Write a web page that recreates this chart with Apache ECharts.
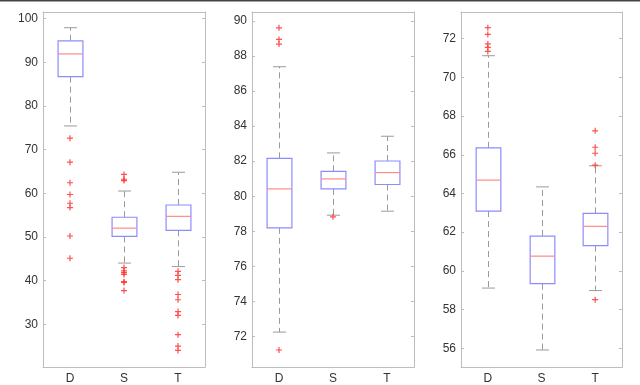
<!DOCTYPE html>
<html>
<head>
<meta charset="utf-8">
<script src="https://cdn.jsdelivr.net/npm/echarts@6/dist/echarts.min.js"></script>
<style>
  html, body { margin: 0; padding: 0; background: #fff; }
  #main { width: 640px; height: 385px; }
</style>
</head>
<body>
<div id="main"></div>
<script>
  let categories = ["D", "S", "T"];

  // box stats per category: [lower whisker, Q1, median, Q3, upper whisker]
  let box1 = [
    [75.4, 86.7, 91.9, 94.9, 97.9],
    [44.0, 50.1, 52.0, 54.5, 60.5],
    [43.2, 51.5, 54.7, 57.3, 64.8],
  ];
  let out1 = [
    [72.6, 67.1, 62.4, 59.7, 57.7, 56.7, 50.2, 45.1],
    [64.3, 63.2, 62.9, 42.96, 42.2, 41.8, 41.4, 39.75, 39.55, 37.7],
    [42.1, 41.2, 40.2, 36.8, 35.6, 32.9, 32.0, 27.6, 25.0, 24.0],
  ];
  let box2 = [
    [72.26, 78.2, 80.42, 82.16, 87.38],
    [78.92, 80.42, 80.99, 81.42, 82.47],
    [79.15, 80.67, 81.35, 82.01, 83.42],
  ];
  let out2 = [
    [89.6, 88.94, 88.67, 71.24],
    [78.83],
    [],
  ];
  let box3 = [
    [59.11, 63.09, 64.69, 66.36, 71.12],
    [55.91, 59.34, 60.76, 61.8, 64.34],
    [58.98, 61.3, 62.3, 62.97, 65.43],
  ];
  let out3 = [
    [72.57, 72.22, 71.73, 71.55, 71.34],
    [],
    [67.24, 66.39, 66.08, 65.46, 58.51],
  ];

  let ticks1 = [30, 40, 50, 60, 70, 80, 90, 100];
  let ticks2 = [72, 74, 76, 78, 80, 82, 84, 86, 88, 90];
  let ticks3 = [56, 58, 60, 62, 64, 66, 68, 70, 72];

  let ranges = [[20.2, 101.5], [70.27, 90.5], [55.03, 73.38]];

  var myChart = echarts.init(document.getElementById("main"));

  let axisColor = "#bdbdbd";
  let textColor = "#333";
  let font = "Liberation Sans, Arial, sans-serif";

  let panels = [
    { left: 43, width: 162, box: box1, out: out1, ticks: ticks1 },
    { left: 252, width: 162, box: box2, out: out2, ticks: ticks2 },
    { left: 461, width: 161, box: box3, out: out3, ticks: ticks3 },
  ];

  function renderBox(params, api) {
    let x = api.value(0);
    let lo = api.coord([x, api.value(1)]);
    let q1 = api.coord([x, api.value(2)]);
    let med = api.coord([x, api.value(3)]);
    let q3 = api.coord([x, api.value(4)]);
    let hi = api.coord([x, api.value(5)]);
    let bw = api.size([1, 0])[0];
    let cx = Math.round(lo[0]) + 0.5;
    let half = bw * 0.23;
    let cap = bw * 0.12;
    let dash = { stroke: "#9a9a9a", lineWidth: 1, lineDash: [6, 4] };
    let solid = { stroke: "#9a9a9a", lineWidth: 1 };
    return {
      type: "group",
      children: [
        { type: "line", shape: { x1: cx, y1: q3[1], x2: cx, y2: hi[1] }, style: dash },
        { type: "line", shape: { x1: cx, y1: q1[1], x2: cx, y2: lo[1] }, style: dash },
        { type: "line", shape: { x1: cx - cap, y1: hi[1], x2: cx + cap, y2: hi[1] }, style: solid },
        { type: "line", shape: { x1: cx - cap, y1: lo[1], x2: cx + cap, y2: lo[1] }, style: solid },
        {
          type: "rect",
          shape: { x: cx - half, y: q3[1], width: half * 2, height: q1[1] - q3[1] },
          style: { fill: "#fff", stroke: "#8c8cff", lineWidth: 1.2 },
        },
        { type: "line", shape: { x1: cx - half, y1: med[1], x2: cx + half, y2: med[1] }, style: { stroke: "#ff8a8a", lineWidth: 1.2 } },
      ],
    };
  }

  let grid = [], xAxis = [], yAxis = [], series = [];
  panels.forEach(function(p, i) {
    grid.push({ left: p.left, width: p.width, top: 12, height: 355.5 });
    // bottom x axis with labels
    xAxis.push({
      type: "category",
      gridIndex: i,
      data: categories,
      position: "bottom",
      axisLine: { lineStyle: { color: axisColor } },
      axisTick: { inside: true, alignWithLabel: true, length: 3, lineStyle: { color: axisColor } },
      axisLabel: { color: textColor, fontSize: 12, fontFamily: font, margin: 6 },
    });
    // top x axis (box edge with ticks)
    xAxis.push({
      type: "category",
      gridIndex: i,
      data: categories,
      position: "top",
      axisLine: { lineStyle: { color: axisColor } },
      axisTick: { inside: true, alignWithLabel: true, length: 3, lineStyle: { color: axisColor } },
      axisLabel: { show: false },
    });
    yAxis.push({
      type: "value",
      gridIndex: i,
      position: "left",
      min: ranges[i][0],
      max: ranges[i][1],
      splitLine: { show: false },
      axisLine: { show: true, lineStyle: { color: axisColor } },
      axisTick: { show: true, inside: true, length: 3, customValues: p.ticks, lineStyle: { color: axisColor } },
      axisLabel: { color: textColor, fontSize: 12, fontFamily: font, margin: 5, customValues: p.ticks },
    });
    yAxis.push({
      type: "value",
      gridIndex: i,
      position: "right",
      min: ranges[i][0],
      max: ranges[i][1],
      splitLine: { show: false },
      axisLine: { show: true, lineStyle: { color: axisColor } },
      axisTick: { show: true, inside: true, length: 3, customValues: p.ticks, lineStyle: { color: axisColor } },
      axisLabel: { show: false },
    });

    let boxData = p.box.map(function(b, k) {
      return [k].concat(b);
    });
    series.push({
      type: "custom",
      xAxisIndex: i * 2,
      yAxisIndex: i * 2,
      data: boxData,
      renderItem: renderBox,
      encode: { x: 0, y: [1, 2, 3, 4, 5] },
      silent: true,
    });

    let outData = [];
    p.out.forEach(function(list, k) {
      list.forEach(function(v) {
        outData.push([k, v]);
      });
    });
    series.push({
      type: "scatter",
      xAxisIndex: i * 2,
      yAxisIndex: i * 2,
      data: outData,
      symbol: "path://M2,0H3V2H5V3H3V5H2V3H0V2H2Z",
      symbolSize: 6,
      itemStyle: { color: "#ff3030", opacity: 0.85 },
      silent: true,
    });
  });

  let options = {
    animation: false,
    graphic: [
      { type: "rect", left: 0, top: 0, shape: { width: 640, height: 1.5 }, style: { fill: "#444" } },
    ],
    grid: grid,
    xAxis: xAxis,
    yAxis: yAxis,
    series: series,
  };
  myChart.setOption(options);
  window.addEventListener("resize", function() {
    myChart.resize();
  });
</script>
</body>
</html>
